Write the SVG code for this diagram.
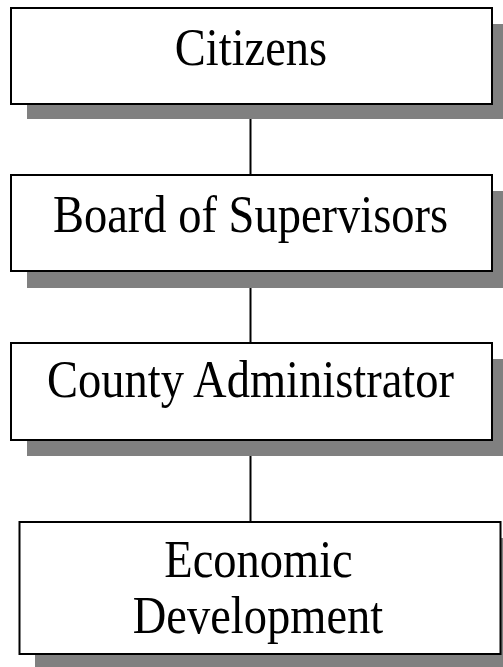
<svg xmlns="http://www.w3.org/2000/svg" width="503" height="667" viewBox="0 0 503 667">
<style>
.shadow{fill:#808080;stroke:none}
.box{fill:#ffffff;stroke:#000000;stroke-width:2}
.lbl{font-family:"Liberation Serif","Times New Roman",serif;font-size:46.5px;fill:#000000;text-anchor:middle}
.conn{stroke:#000000;stroke-width:2;fill:none}
</style>
<rect width="503" height="667" fill="#ffffff"/>
<g id="connectors">
<line class="conn" x1="250.5" y1="104" x2="250.5" y2="175"/>
<line class="conn" x1="250.5" y1="271" x2="250.5" y2="343"/>
<line class="conn" x1="250.5" y1="440" x2="250.5" y2="522"/>
</g>
<g id="citizens">
<rect class="shadow" x="27" y="24" width="481" height="95"/>
<rect class="box" x="11" y="8" width="481" height="96"/>
<text class="lbl" transform="translate(251,65) scale(1,1.14)">Citizens</text>
</g>
<g id="board">
<rect class="shadow" x="27" y="191" width="481" height="97"/>
<rect class="box" x="11" y="175" width="481" height="96"/>
<text class="lbl" transform="translate(250.5,232) scale(1,1.14)">Board of Supervisors</text>
</g>
<g id="administrator">
<rect class="shadow" x="27" y="359" width="481" height="97"/>
<rect class="box" x="11" y="343" width="481" height="97"/>
<text class="lbl" transform="translate(250.5,397) scale(1,1.14)">County Administrator</text>
</g>
<g id="economic">
<rect class="shadow" x="35" y="538" width="481" height="132"/>
<rect class="box" x="19.5" y="522" width="481" height="132"/>
<text class="lbl" transform="translate(0,577) scale(1,1.14)"><tspan x="258.5" y="0">Economic</tspan><tspan x="258" y="49.1">Development</tspan></text>
</g>
</svg>
